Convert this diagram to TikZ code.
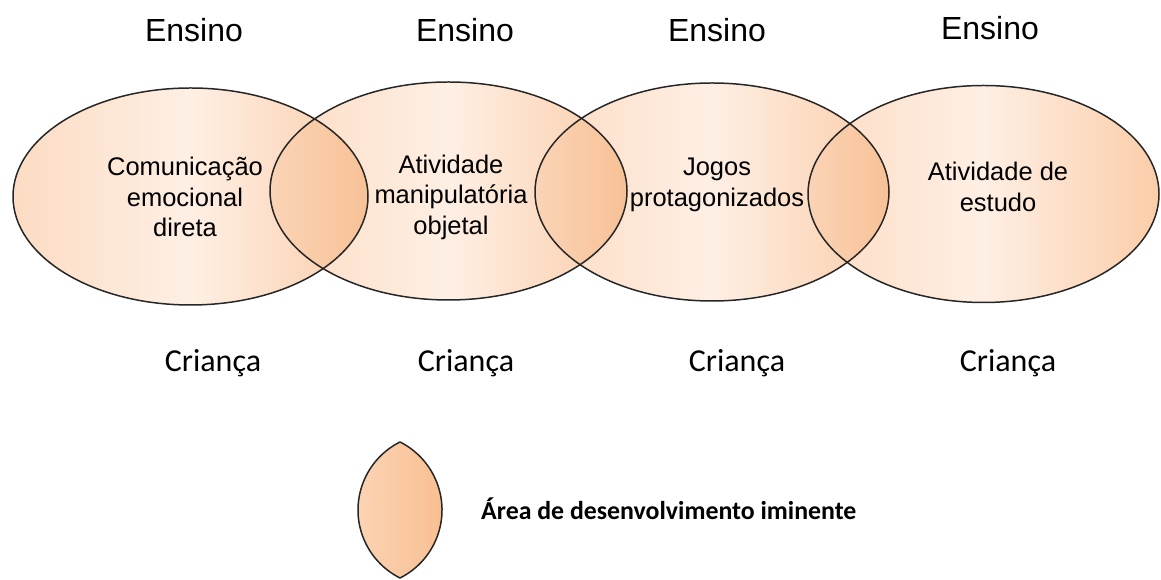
\documentclass[tikz,border=0pt]{standalone}
\usepackage{fontspec}
\setmainfont{Liberation Sans}
\newfontfamily\calibri{Carlito}

\definecolor{peachlight}{HTML}{FEEFE4}
\definecolor{peachmid}{HTML}{FCDCC3}
\definecolor{peachdark}{HTML}{FBCDA9}
\definecolor{lensleft}{HTML}{FAD4B6}
\definecolor{lensright}{HTML}{F8C196}
\definecolor{legleft}{HTML}{FCD6B9}
\definecolor{legright}{HTML}{F8BD8C}
\definecolor{outline}{HTML}{262626}

\begin{document}
\begin{tikzpicture}[
    ensino/.style={anchor=base, font=\fontsize{18.2}{22}\selectfont},
    crianca/.style={anchor=base, font=\calibri\fontsize{18.2}{22}\selectfont},
    fase/.style={align=center, font=\fontsize{14.5}{17.4}\selectfont},
    fundo/.style={left color=peachmid, right color=peachdark, middle color=peachlight},
    lente/.style={left color=lensleft, right color=lensright},
    contorno/.style={draw=outline, line width=0.85pt}
]
    \useasboundingbox (0,0) rectangle (23.22,11.58);

    \coordinate (c1) at (3.81,7.65);
    \coordinate (c2) at (8.97,7.76);
    \coordinate (c3) at (14.24,7.74);
    \coordinate (c4) at (19.67,7.70);

    % elipses
    \shade[fundo] (c1) ellipse [x radius=3.55, y radius=2.17];
    \shade[fundo] (c2) ellipse [x radius=3.57, y radius=2.18];
    \shade[fundo] (c3) ellipse [x radius=3.54, y radius=2.18];
    \shade[fundo] (c4) ellipse [x radius=3.51, y radius=2.17];

    % sobreposicoes
    \begin{scope}
        \clip (c1) ellipse [x radius=3.55, y radius=2.17];
        \clip (c2) ellipse [x radius=3.57, y radius=2.18];
        \shade[lente] (5.40,5) rectangle (7.36,10.5);
    \end{scope}
    \begin{scope}
        \clip (c2) ellipse [x radius=3.57, y radius=2.18];
        \clip (c3) ellipse [x radius=3.54, y radius=2.18];
        \shade[lente] (10.70,5) rectangle (12.54,10.5);
    \end{scope}
    \begin{scope}
        \clip (c3) ellipse [x radius=3.54, y radius=2.18];
        \clip (c4) ellipse [x radius=3.51, y radius=2.17];
        \shade[lente] (16.16,5) rectangle (17.78,10.5);
    \end{scope}

    \draw[contorno] (c1) ellipse [x radius=3.55, y radius=2.17];
    \draw[contorno] (c2) ellipse [x radius=3.57, y radius=2.18];
    \draw[contorno] (c3) ellipse [x radius=3.54, y radius=2.18];
    \draw[contorno] (c4) ellipse [x radius=3.51, y radius=2.17];

    \node[fase] (com) at (3.70,7.64) {Comunicação\\emocional\\direta};
    \node[fase] (man) at (9.02,7.64) {Atividade\\manipulatória\\objetal};
    \node[fase] (jog) at (14.34,7.88) {Jogos\\protagonizados};
    \node[fase] (est) at (19.96,7.84) {Atividade de\\estudo};

    \node[ensino] (ens1) at (3.88,10.74) {Ensino};
    \node[ensino] (ens2) at (9.30,10.74) {Ensino};
    \node[ensino] (ens3) at (14.34,10.74) {Ensino};
    \node[ensino] (ens4) at (19.80,10.78) {Ensino};

    \node[crianca] (cri1) at (4.26,4.14) {Criança};
    \node[crianca] (cri2) at (9.32,4.14) {Criança};
    \node[crianca] (cri3) at (14.74,4.14) {Criança};
    \node[crianca] (cri4) at (20.16,4.14) {Criança};

    % legenda
    \coordinate (topo) at (8.0,2.74);
    \shade[left color=legleft, right color=legright, contorno] (topo) arc[start angle=116.6, end angle=243.4, radius=1.521]
        arc[start angle=-63.4, end angle=63.4, radius=1.521] -- cycle;
    \node[anchor=base west, font=\calibri\bfseries\fontsize{14.7}{18}\selectfont] (leg) at (9.5,1.18) {Área de desenvolvimento iminente};
\end{tikzpicture}
\end{document}
